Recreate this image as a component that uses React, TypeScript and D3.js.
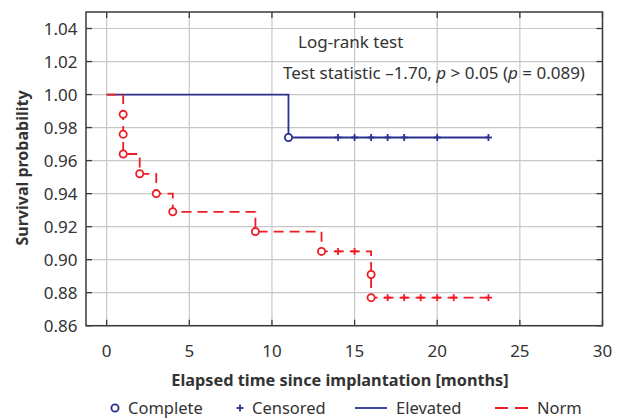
import React from 'react';
import * as d3 from 'd3';

// Kaplan-Meier data
const elevatedTimes = [0, 11];
const elevatedSurv = [1.0, 0.974];
const elevatedEnd = 23.1;
const elevatedCensored = [14, 15, 16, 17, 18, 20, 23.1];

const normTimes = [0, 1, 1, 1, 2, 3, 4, 9, 13, 16, 16];
const normSurv = [1.0, 0.988, 0.976, 0.964, 0.952, 0.940, 0.929, 0.917, 0.905, 0.891, 0.877];
const normEnd = 23.1;
const normCensored = [14, 15, 17, 18, 19, 20, 21, 23.1];

const xTicks = [0, 5, 10, 15, 20, 25, 30];
const yTicks = [0.86, 0.88, 0.9, 0.92, 0.94, 0.96, 0.98, 1.0, 1.02, 1.04];
const legendLabels = ['Complete', 'Censored', 'Elevated', 'Norm'];

const BLUE = '#2b3190';
const RED = '#ee1c25';
const FONT = '"Noto Sans", "Open Sans", sans-serif';

const App = () => {
  const width = 617;
  const height = 419;
  const left = 86, right = 602.5, top = 12, bottom = 325.7;

  const x = d3.scaleLinear().domain([-1.25, 30]).range([left, right]);
  const y = d3.scaleLinear().domain([0.86, 1.05]).range([bottom, top]);

  const line = d3.line<[number, number]>()
    .x(d => x(d[0]))
    .y(d => y(d[1]))
    .curve(d3.curveStepAfter);

  const stepPoints = (times: number[], surv: number[], end: number): [number, number][] => {
    const pts: [number, number][] = times.map((t, i) => [t, surv[i]]);
    pts.push([end, surv[surv.length - 1]]);
    return pts;
  };

  const survAt = (times: number[], surv: number[], t: number) => {
    let s = surv[0];
    times.forEach((tt, i) => { if (tt <= t) s = surv[i]; });
    return s;
  };

  const curves = [
    { times: elevatedTimes, surv: elevatedSurv, end: elevatedEnd, cens: elevatedCensored, color: BLUE, dash: undefined },
    { times: normTimes, surv: normSurv, end: normEnd, cens: normCensored, color: RED, dash: '10 6' },
  ];

  const tickLen = 6;
  const frame = '#3a3a3a';
  const grid = '#c8c8c8';
  const textColor = '#333';

  return (
    <svg width={width} height={height} style={{ position: 'absolute', left: 0, top: 0, background: '#fff' }}
      fontFamily={FONT}>
      {/* grid */}
      {xTicks.map(t => (
        <line key={'gx' + t} x1={x(t)} x2={x(t)} y1={top} y2={bottom} stroke={grid} strokeWidth={1.2} />
      ))}
      {yTicks.map(t => (
        <line key={'gy' + t} x1={left} x2={right} y1={y(t)} y2={y(t)} stroke={grid} strokeWidth={1.2} />
      ))}

      {/* inward ticks */}
      {xTicks.map(t => (
        <g key={'tx' + t} stroke={frame} strokeWidth={1.3}>
          <line x1={x(t)} x2={x(t)} y1={bottom} y2={bottom - tickLen} />
          <line x1={x(t)} x2={x(t)} y1={top} y2={top + tickLen} />
        </g>
      ))}
      {yTicks.map(t => (
        <g key={'ty' + t} stroke={frame} strokeWidth={1.3}>
          <line x1={left} x2={left + tickLen} y1={y(t)} y2={y(t)} />
          <line x1={right} x2={right - tickLen} y1={y(t)} y2={y(t)} />
        </g>
      ))}

      <rect x={left} y={top} width={right - left} height={bottom - top} fill="none" stroke={frame} strokeWidth={1.5} />

      {/* tick labels */}
      {xTicks.map(t => (
        <text key={'lx' + t} x={x(t)} y={356.5} textAnchor="middle" fontSize={17} fill={textColor}>{t}</text>
      ))}
      {yTicks.map(t => (
        <text key={'ly' + t} x={77.5} y={y(t) + 6} textAnchor="end" fontSize={17} fill={textColor}>{t.toFixed(2)}</text>
      ))}

      {/* axis titles */}
      <text x={340} y={385.5} textAnchor="middle" fontSize={16.3} fontWeight="bold" fill={textColor}>
        Elapsed time since implantation [months]
      </text>
      <text transform={`translate(28,168) rotate(-90)`} textAnchor="middle" fontSize={16}
        fontWeight="bold" fill={textColor}>
        Survival probability
      </text>

      {/* curves */}
      {curves.map((c, ci) => (
        <g key={'c' + ci}>
          <path d={line(stepPoints(c.times, c.surv, c.end)) || ''} fill="none" stroke={c.color}
            strokeWidth={1.8} strokeDasharray={c.dash} />
          {c.cens.map((t, i) => (
            <line key={'cm' + i} x1={x(t)} x2={x(t)} y1={y(survAt(c.times, c.surv, t)) - 3.5}
              y2={y(survAt(c.times, c.surv, t)) + 3.5} stroke={c.color} strokeWidth={1.8} />
          ))}
          {c.cens.map((t, i) => (
            <line key={'ch' + i} x1={x(t) - 3.5} x2={x(t) + 3.5} y1={y(survAt(c.times, c.surv, t))}
              y2={y(survAt(c.times, c.surv, t))} stroke={c.color} strokeWidth={1.8} />
          ))}
          {c.times.slice(1).map((t, i) => (
            <circle key={'ev' + i} cx={x(t)} cy={y(c.surv[i + 1])} r={3.6} fill="#fff" stroke={c.color} strokeWidth={1.8} />
          ))}
        </g>
      ))}

      {/* annotation */}
      <text x={298} y={47.5} fontSize={17} fill={textColor}>Log-rank test</text>
      <text x={283} y={78.5} fontSize={17} fill={textColor}>
        Test statistic –1.70, <tspan fontStyle="italic">p</tspan> &gt; 0.05 (<tspan fontStyle="italic">p</tspan> = 0.089)
      </text>

      {/* legend */}
      <g fontSize={16.5} fill={textColor}>
        <circle cx={115} cy={408} r={3.6} fill="#fff" stroke={BLUE} strokeWidth={1.8} />
        <text x={128} y={414}>{legendLabels[0]}</text>
        <line x1={236.5} x2={243.5} y1={408} y2={408} stroke={BLUE} strokeWidth={1.8} />
        <line x1={240} x2={240} y1={404.5} y2={411.5} stroke={BLUE} strokeWidth={1.8} />
        <text x={252} y={414}>{legendLabels[1]}</text>
        <line x1={355} x2={387} y1={408} y2={408} stroke={BLUE} strokeWidth={1.8} />
        <text x={396} y={414}>{legendLabels[2]}</text>
        <line x1={495} x2={528} y1={408} y2={408} stroke={RED} strokeWidth={1.8} strokeDasharray="13 7" />
        <text x={537} y={414}>{legendLabels[3]}</text>
      </g>
    </svg>
  );
};

export default App;
